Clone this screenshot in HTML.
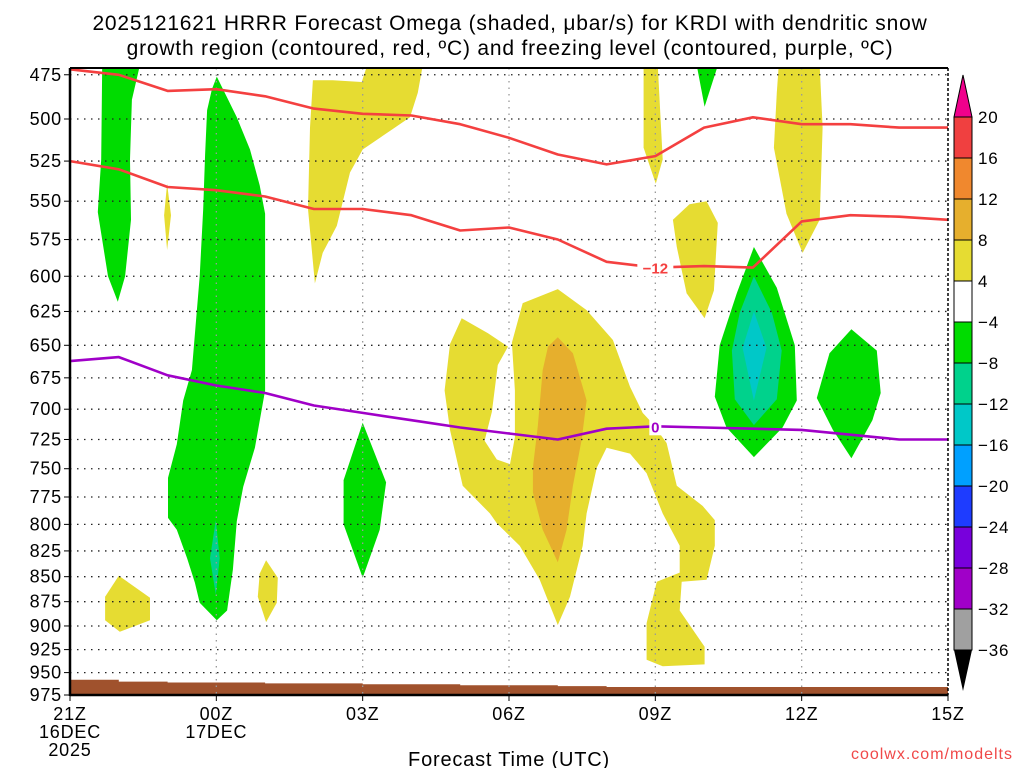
<!DOCTYPE html>
<html><head><meta charset="utf-8"><style>
html,body{margin:0;padding:0;background:#fff;width:1024px;height:768px;overflow:hidden}
svg{display:block;font-family:"Liberation Sans",sans-serif}
</style></head><body>
<svg id="chart" width="1024" height="768" viewBox="0 0 1024 768">
<text x="510" y="30" font-size="21" text-anchor="middle" letter-spacing="0.8">2025121621 HRRR Forecast Omega (shaded, μbar/s) for KRDI with dendritic snow</text>
<text x="510" y="55" font-size="21" text-anchor="middle" letter-spacing="0.8">growth region (contoured, red, ºC) and freezing level (contoured, purple, ºC)</text>
<g id="shades"></g>
<g id="grid"></g>
<g id="lines"></g>
<g id="axes"></g>
<g id="cbar"></g>
<text x="509" y="766" font-size="20" text-anchor="middle" letter-spacing="0.8">Forecast Time (UTC)</text>
<text x="1013" y="759" font-size="16" text-anchor="end" fill="#f04848" letter-spacing="1">coolwx.com/modelts</text>
</svg>
<script>
// ---- data ----
const hours = [0,1,2,3,4,5,6,7,8,9,10,11,12,13,14,15,16,17,18];
const redUpper = [472,475,484,483,487,494,497,498,503,511,521,527,522,505,499,503,503,505,505];
const redLower = [525,530,541,543,547,555,555,559,569,567,575,590,594,593,594,563,559,560,562];
const purpleZero = [662,659,673,681,687,697,703,709,715,720,725,716,714,715,716,717,721,725,725];
const surfaceP = [958,960,961,961,962,962,963,963,964,964,965,966,966,966,966,966,966,966,967];
const pressureTicks = [475,500,525,550,575,600,625,650,675,700,725,750,775,800,825,850,875,900,925,950,975];
const timeTicks = [0,3,6,9,12,15,18];
const timeLabels = [["21Z","16DEC","2025"],["00Z","17DEC"],["03Z"],["06Z"],["09Z"],["12Z"],["15Z"]];
const cbarLevels = [20,16,12,8,4,-4,-8,-12,-16,-20,-24,-28,-32,-36];
const cbarColors = ["#f04040","#f0882e","#e6af2d","#e6dc32","#ffffff","#00dc00","#00d28c","#00c8c8","#00a0ff","#1e3cff","#7800dc","#a000c8","#a0a0a0"];
// omega regions as [hour, pressure]
const leftGreen = [[.66,470],[1.43,470],[1.27,489],[1.23,524],[1.25,562],[1.13,600],[.98,618],[.78,600],[.57,557],[.64,524]];
const sliverYellow = [[1.99,539],[2.07,559],[1.99,582],[1.93,559]];
const bigGreen = [[3.01,476],[3.42,499],[3.69,518],[3.89,540],[4.0,558],[4.0,685],[3.79,732],[3.55,766],[3.42,797],[3.34,843],[3.22,884],[3.01,894],[2.66,876],[2.56,856],[2.40,832],[2.19,805],[2.01,794],[2.01,758],[2.19,729],[2.32,693],[2.5,669],[2.66,600],[2.73,555],[2.77,521],[2.81,495],[2.91,483]];
const smallTeal = [[2.99,796],[3.07,832],[2.99,868],[2.87,832]];
const smallYellow = [[4.02,834],[4.26,851],[4.24,876],[4.02,896],[3.85,870],[3.89,847]];
const green03 = [[6.0,711],[6.48,762],[6.35,805],[6.0,851],[5.61,800],[5.61,760]];
const yellowBL = [[1.0,849],[1.64,871],[1.64,894],[1.02,906],[.72,894],[.72,870]];
const yellow03 = [[4.98,478],[5.39,478],[5.98,479],[6.09,470],[7.23,470],[7.13,485],[6.97,499],[6.0,518],[5.74,532],[5.47,566],[5.18,584],[5.02,605],[4.88,555],[4.92,505]];
const yellowCenter = [[10.0,609],[10.59,624],[11.13,646],[11.48,682],[11.74,703],[11.93,711],[12.23,728],[12.44,765],[12.97,783],[13.22,796],[13.22,820],[13.05,853],[12.54,855],[12.5,884],[13.01,922],[13.01,941],[12.15,943],[11.82,936],[11.82,897],[12.03,855],[12.5,846],[12.5,820],[12.15,790],[11.82,754],[11.48,737],[11.0,732],[10.8,749],[10.59,790],[10.51,820],[10.25,870],[10.0,899],[9.63,853],[9.22,820],[8.75,799],[8.61,790],[8.05,765],[7.79,717],[7.68,685],[7.79,649],[8.03,630],[8.57,641],[8.98,651],[8.77,665],[8.65,702],[8.5,726],[8.75,742],[9.02,746],[9.12,723],[9.12,685],[9.06,648],[9.28,619]];
const orangeCenter = [[10.0,644],[10.31,656],[10.59,693],[10.49,725],[10.31,765],[10.18,805],[10.0,836],[9.69,805],[9.49,771],[9.49,749],[9.59,714],[9.69,669],[9.80,651]];
const yellow09 = [[11.76,470],[12.05,470],[12.15,524],[12.01,539],[11.76,517]];
const greenTop = [[12.85,470],[13.28,470],[13.01,493]];
const yellow12 = [[14.53,470],[15.37,470],[15.43,505],[15.37,562],[15.02,584],[14.69,558],[14.43,517],[14.49,485]];
const yellowBlob = [[12.36,562],[12.70,552],[13.05,550],[13.28,564],[13.2,610],[13.01,630],[12.64,612],[12.44,580]];
const greenOval = [[14.02,580],[14.49,608],[14.86,650],[14.90,693],[14.61,715],[14.02,740],[13.46,715],[13.22,690],[13.32,650],[13.67,612]];
const tealOval = [[14.02,600],[14.39,626],[14.59,654],[14.49,692],[14.02,713],[13.63,692],[13.57,654],[13.73,626]];
const cyanOval = [[14.02,625],[14.28,652],[14.02,693],[13.79,652]];
const greenRight = [[16.02,638],[16.54,654],[16.62,687],[16.45,709],[16.02,741],[15.64,717],[15.31,691],[15.57,656]];

// ---- axes ----
const X0=70, X1=948, YTOP=68, YBOT=695;
const xs = h => X0 + h*(X1-X0)/18;
const ys = p => 119 + 862.5*Math.log(p/500);
const NS="http://www.w3.org/2000/svg";
function mk(tag, attrs, parent){const e=document.createElementNS(NS,tag);for(const k in attrs)e.setAttribute(k,attrs[k]);parent.appendChild(e);return e;}
const shades=document.getElementById('shades'), grid=document.getElementById('grid'), lines=document.getElementById('lines'), axes=document.getElementById('axes'), cbar=document.getElementById('cbar');
const clip=mk('clipPath',{id:'pc'},mk('defs',{},document.getElementById('chart')));
mk('rect',{x:X0,y:YTOP,width:X1-X0,height:YBOT-YTOP},clip);
shades.setAttribute('clip-path','url(#pc)');
const Y='#e6dc32',G='#00dc00',T='#00d28c',C='#00c8c8',O='#e6af2d';
const regions=[[leftGreen,G,'omega-region-green-left'],[sliverYellow,Y,'omega-region-yellow-sliver'],[bigGreen,G,'omega-region-green-00z'],[smallTeal,T,'omega-region-teal-00z'],[smallYellow,Y,'omega-region-yellow-small'],[green03,G,'omega-region-green-03z'],[yellowBL,Y,'omega-region-yellow-lowleft'],[yellow03,Y,'omega-region-yellow-03z'],[yellowCenter,Y,'omega-region-yellow-center'],[orangeCenter,O,'omega-region-orange-center'],[yellow09,Y,'omega-region-yellow-09z'],[greenTop,G,'omega-region-green-top'],[yellow12,Y,'omega-region-yellow-12z'],[yellowBlob,Y,'omega-region-yellow-blob'],[greenOval,G,'omega-region-green-oval'],[tealOval,T,'omega-region-teal-oval'],[cyanOval,C,'omega-region-cyan-oval'],[greenRight,G,'omega-region-green-right']];
regions.forEach(r=>{
  const e=mk('polygon',{points:r[0].map(q=>xs(q[0]).toFixed(1)+','+ys(q[1]).toFixed(1)).join(' '),fill:r[1]},shades);
  
  
});
// terrain
let tp='M'+xs(0)+','+YBOT;
hours.forEach((h,i)=>{tp+=' L'+xs(h).toFixed(1)+','+ys(surfaceP[i]).toFixed(1)+' L'+xs(Math.min(18,h+1)).toFixed(1)+','+ys(surfaceP[i]).toFixed(1);});
tp+=' L'+X1+','+YBOT+' Z';
const terr=mk('path',{d:tp,fill:'#a0522d'},shades);


// grid
pressureTicks.forEach(p=>{
  const l=mk('line',{x1:X0,x2:X1,y1:ys(p),y2:ys(p),stroke:'#222','stroke-width':1.3,'stroke-dasharray':'1.5 5.5'},grid);
  
  
  const t=mk('text',{x:62,y:ys(p)+6,'font-size':18,'text-anchor':'end','letter-spacing':'0.8'},axes);
  t.textContent=p;
  
  
  mk('line',{x1:64,x2:X0,y1:ys(p),y2:ys(p),stroke:'#000'},axes);
});
timeTicks.forEach((h,i)=>{
  if(h>0&&h<18){const l=mk('line',{x1:xs(h),x2:xs(h),y1:YTOP,y2:YBOT,stroke:'#999','stroke-width':1.3,'stroke-dasharray':'1.5 5'},grid);
  
  }
  mk('line',{x1:xs(h),x2:xs(h),y1:YBOT,y2:YBOT+6,stroke:'#000'},axes);
  timeLabels[i].forEach((s,j)=>{
    const t=mk('text',{x:xs(h),y:720+j*18,'font-size':18,'text-anchor':'middle','letter-spacing':'0.8'},axes);
    t.textContent=s;
    
    
  });
});
// contour lines
function lineOf(arr,color,name){
  const e=mk('polyline',{points:hours.map((h,i)=>xs(h).toFixed(1)+','+ys(arr[i]).toFixed(1)).join(' '),fill:'none',stroke:color,'stroke-width':2.6,'stroke-linejoin':'round'},lines);
  
  
}
lineOf(redUpper,'#f44040','red-isotherm-upper');
lineOf(redLower,'#f44040','red-isotherm-minus12');
lineOf(purpleZero,'#a000c8','purple-freezing-level');
function lbl(h,arr,s,color,name){
  const y=ys(arr[h]);
  mk('rect',{x:xs(h)-(s.length*6),y:y-9,width:s.length*12,height:18,fill:'#fff'},lines);
  const t=mk('text',{x:xs(h),y:y+6,'font-size':15,'font-weight':'bold','text-anchor':'middle',fill:color},lines);
  t.textContent=s;
  
  
}
lbl(12,redLower,'−12','#f44040','contour-label-minus12');
lbl(12,purpleZero,'0','#a000c8','contour-label-zero');
// frame
mk('line',{x1:X0,x2:X0,y1:YTOP,y2:YBOT+1,stroke:'#000','stroke-width':2.5},axes);
mk('line',{x1:X0,x2:X1,y1:YBOT,y2:YBOT,stroke:'#000','stroke-width':2.5},axes);
mk('line',{x1:X0,x2:X1,y1:YTOP,y2:YTOP,stroke:'#000','stroke-width':2},axes);
mk('line',{x1:X1,x2:X1,y1:YTOP,y2:YBOT,stroke:'#000','stroke-width':1.5,'stroke-dasharray':'3 2'},axes);
// colorbar
const CB0=117, CB1=650, bh=(CB1-CB0)/cbarColors.length;
mk('polygon',{points:'954,'+CB0+' 963,75 972,'+CB0,fill:'#f0008c',stroke:'#000'},cbar);
cbarColors.forEach((c,i)=>{
  const r=mk('rect',{x:954,y:CB0+i*bh,width:18,height:bh,fill:c,stroke:'#000','stroke-width':1},cbar);
  
  
});
mk('polygon',{points:'954,'+CB1+' 963,691 972,'+CB1,fill:'#000'},cbar);
cbarLevels.forEach((v,i)=>{
  const t=mk('text',{x:978,y:CB0+i*bh+6,'font-size':17,'letter-spacing':'0.8'},cbar);
  t.textContent=(v<0?'−':'')+Math.abs(v);
  
  
});
</script>
</body></html>
